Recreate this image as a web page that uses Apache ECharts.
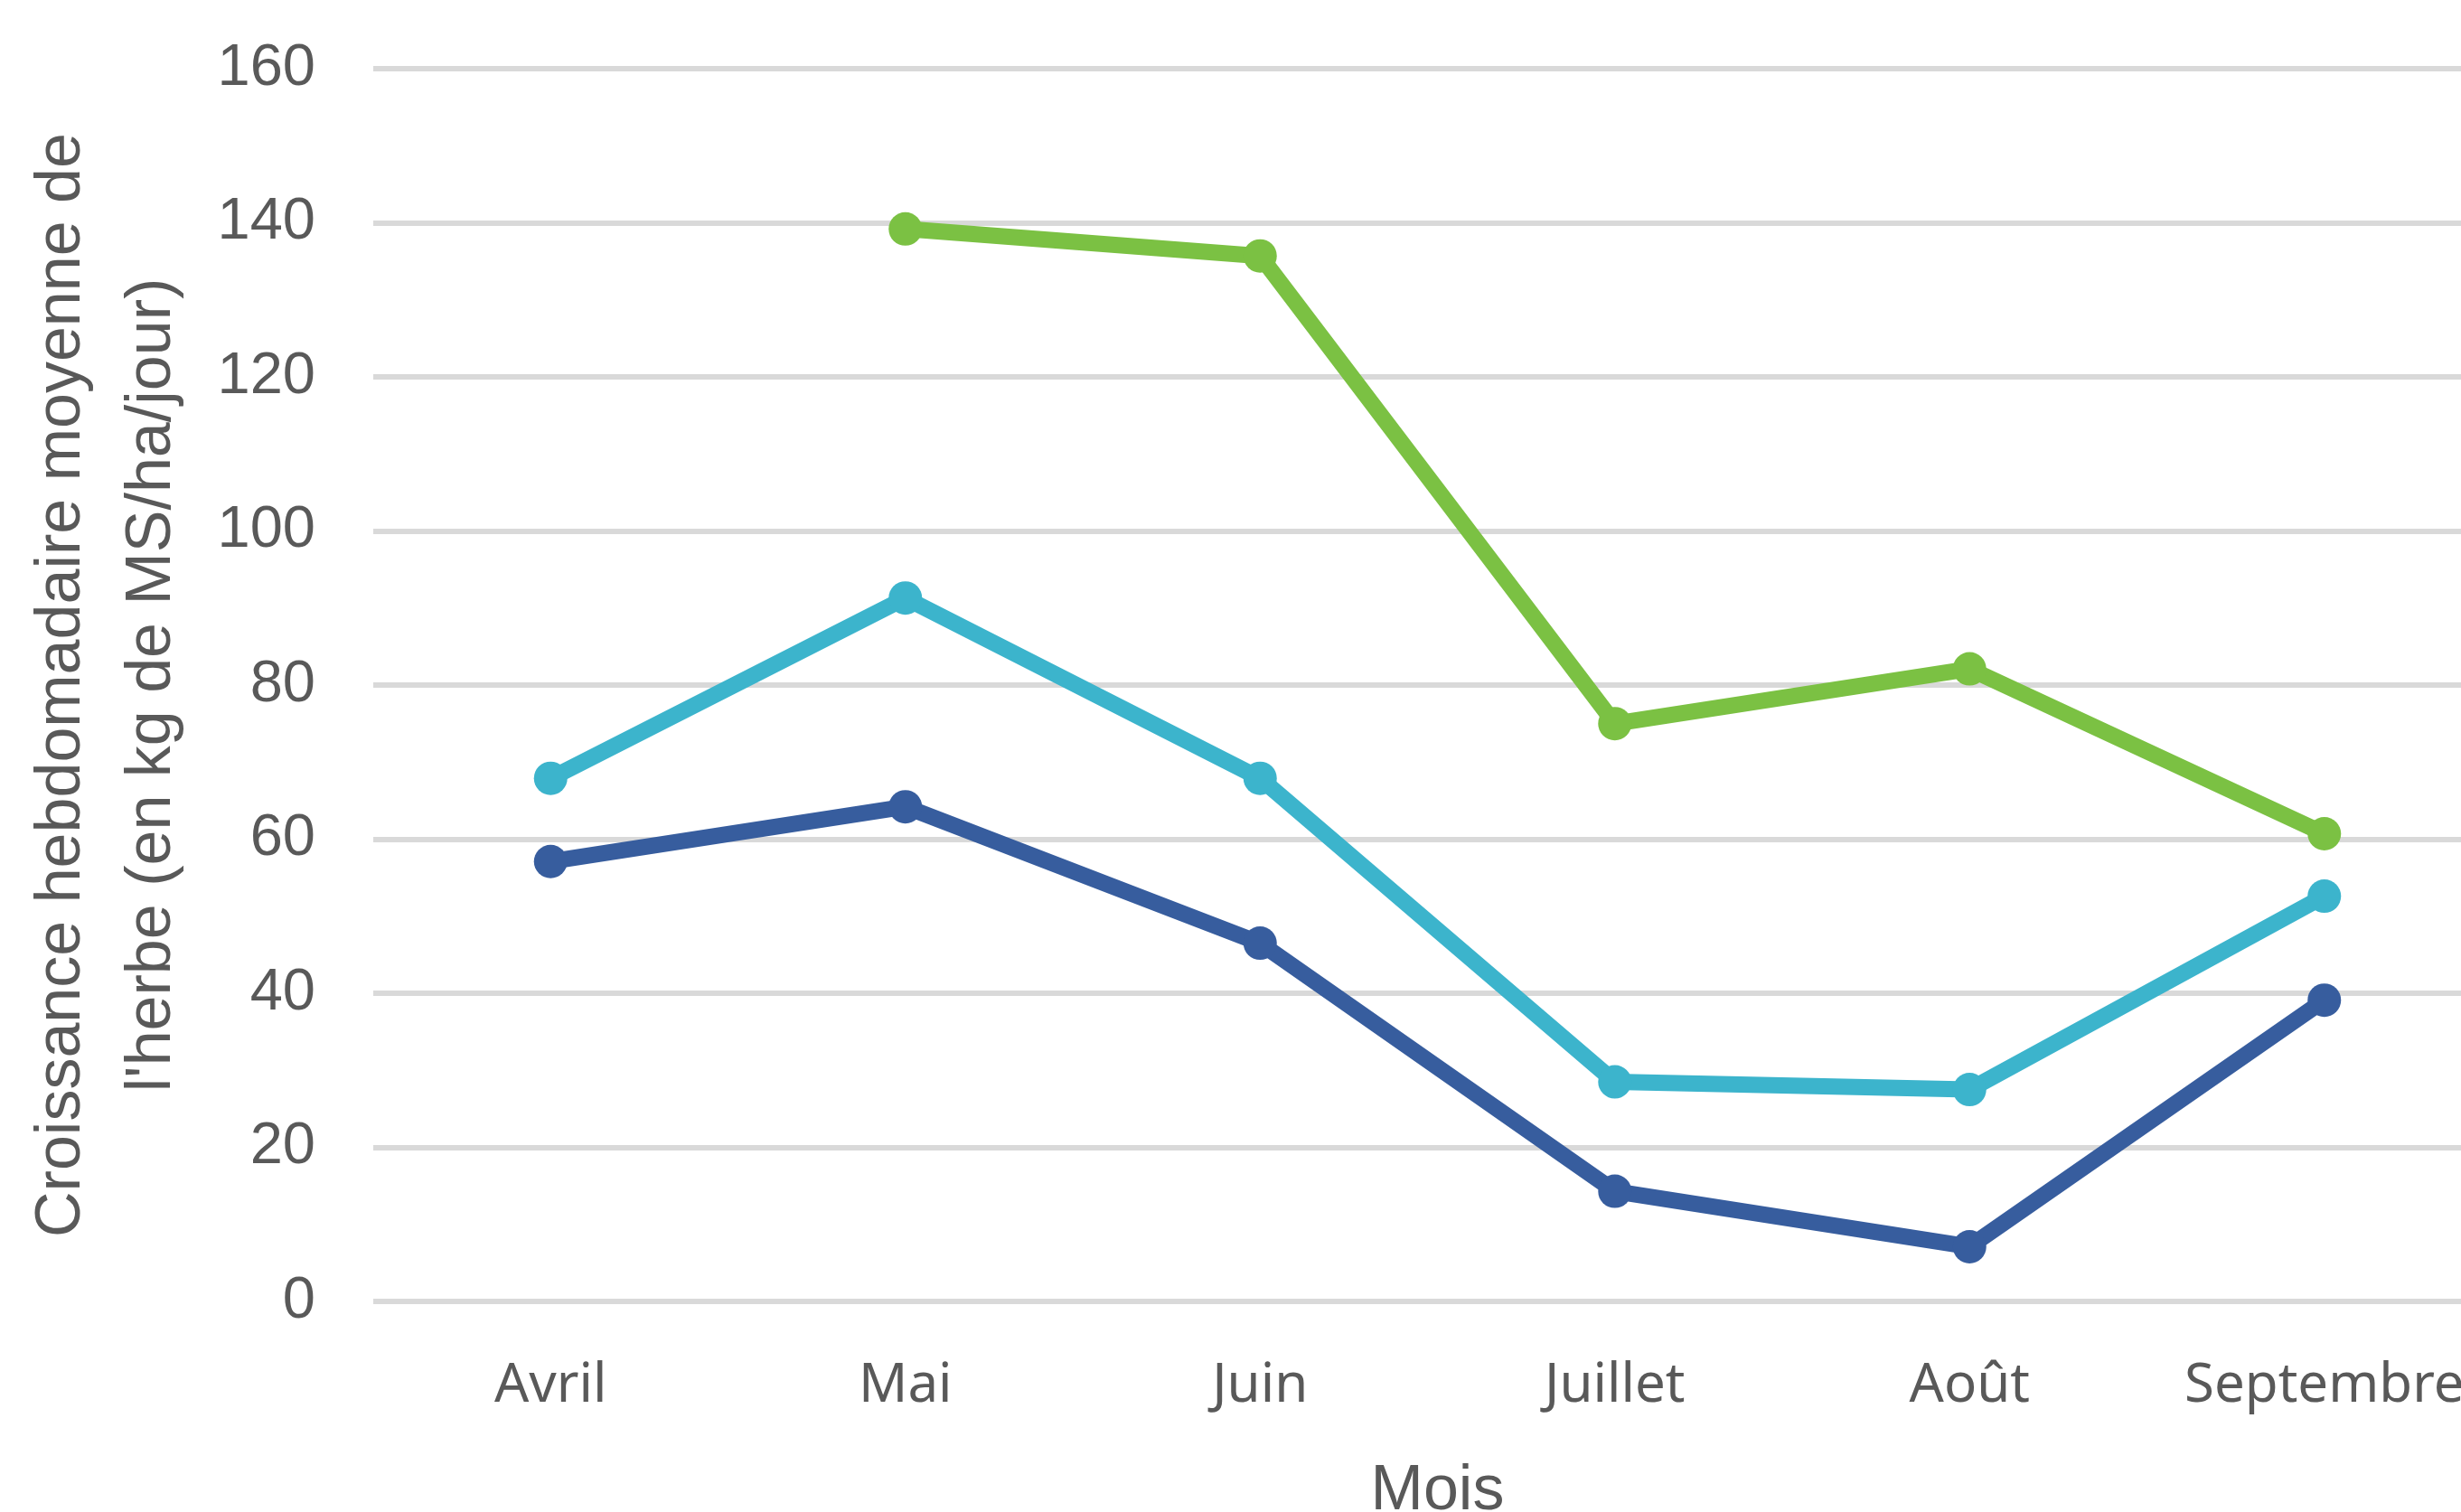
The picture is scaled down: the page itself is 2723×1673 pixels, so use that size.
<!DOCTYPE html>
<html>
<head>
<meta charset="utf-8">
<script src="https://cdn.jsdelivr.net/npm/echarts@6/dist/echarts.min.js"></script>
<style>
html,body{margin:0;padding:0;background:#fff;overflow:hidden;}
#chart{width:2723px;height:1673px;}
</style>
</head>
<body>
<div id="chart"></div>
<script>
const categories = ['Avril', 'Mai', 'Juin', 'Juillet', 'Août', 'Septembre'];
const greenValues = [null, 139.2, 135.7, 75.0, 82.1, 60.7];
const cyanValues = [67.9, 91.3, 67.9, 28.5, 27.5, 52.6];
const blueValues = [57.1, 64.2, 46.5, 14.3, 7.1, 39.1];
const yTicks = [0, 20, 40, 60, 80, 100, 120, 140, 160];
const yAxisTitle = "Croissance hebdomadaire moyenne de\nl'herbe (en kg de MS/ha/jour)";
const xAxisTitle = 'Mois';

const chart = echarts.init(document.getElementById('chart'), null, {renderer: 'canvas'});

function lineSeries(name, data, color) {
  return {
    name: name,
    type: 'line',
    data: data,
    symbol: 'circle',
    symbolSize: 37,
    showSymbol: true,
    connectNulls: false,
    lineStyle: {width: 18, color: color},
    itemStyle: {color: color},
    emphasis: {disabled: true},
    animation: false
  };
}

chart.setOption({
  animation: false,
  backgroundColor: '#ffffff',
  grid: {left: 413, top: 76, width: 2355, height: 1364, containLabel: false, outerBoundsMode: 'none'},
  xAxis: {
    type: 'category',
    data: categories,
    boundaryGap: true,
    axisLine: {show: false},
    axisTick: {show: false},
    axisLabel: {color: '#595959', fontSize: 60, fontFamily: 'Noto Sans', margin: 64, interval: 0, hideOverlap: false},
    name: xAxisTitle,
    nameLocation: 'middle',
    nameGap: 176,
    nameTextStyle: {color: '#595959', fontSize: 70, fontFamily: 'Liberation Sans'}
  },
  yAxis: {
    type: 'value',
    min: yTicks[0],
    max: yTicks[yTicks.length - 1],
    interval: yTicks[1] - yTicks[0],
    axisLine: {show: false},
    axisTick: {show: false},
    splitLine: {lineStyle: {color: '#D9D9D9', width: 6}},
    axisLabel: {color: '#595959', fontSize: 65, fontFamily: 'Liberation Sans', margin: 64},
    name: yAxisTitle,
    nameLocation: 'middle',
    nameRotate: 90,
    nameGap: 194,
    nameTextStyle: {color: '#595959', fontSize: 70, fontFamily: 'Liberation Sans', lineHeight: 100, align: 'center'}
  },
  series: [
    lineSeries('Série 1', greenValues, '#7BC143'),
    lineSeries('Série 2', cyanValues, '#3CB4CC'),
    lineSeries('Série 3', blueValues, '#375D9E')
  ]
});
</script>
</body>
</html>
